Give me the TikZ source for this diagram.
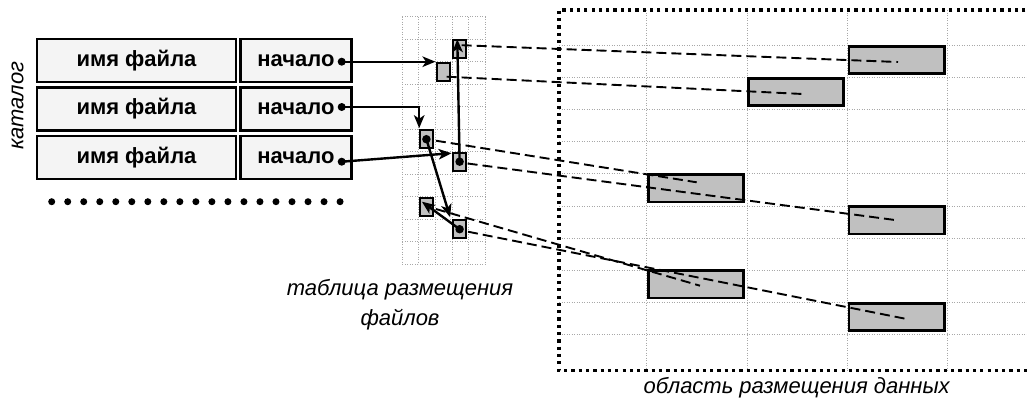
\documentclass[tikz,border=0pt]{standalone}
\usepackage{fontspec}
\setmainfont{Liberation Sans}
\usetikzlibrary{arrows.meta}
\definecolor{catfill}{HTML}{F4F4F4}
\definecolor{boxgray}{HTML}{C0C0C0}
\definecolor{gridgray}{HTML}{A8A8A8}
\begin{document}
\begin{tikzpicture}[x=1pt,y=-1pt,
  catcell/.style={draw=black, line width=2.6pt, fill=catfill, minimum height=43.2pt, inner sep=0pt, font=\fontsize{22}{26}\selectfont\bfseries},
  fatbox/.style={draw=black, line width=2pt, fill=boxgray, minimum width=13pt, minimum height=18pt, inner sep=0pt},
  datablk/.style={draw=black, line width=2.8pt, fill=boxgray, minimum width=95.2pt, minimum height=27.2pt, inner sep=0pt},
  gridln/.style={draw=gridgray, line width=0.9pt, dash pattern=on 0.9pt off 1.6pt},
  areaborder/.style={line width=3.2pt, dash pattern=on 3.2pt off 4.1pt},
  ptr/.style={line width=2.4pt, -{Stealth[length=13pt,width=10.5pt,inset=3.5pt]}},
  link/.style={line width=1.9pt, dash pattern=on 10pt off 5pt},
  dotc/.style={circle, fill=black, inner sep=0pt, minimum size=8pt},
  lbl/.style={font=\fontsize{22}{30}\selectfont\itshape, inner sep=0pt}
]
\useasboundingbox (0,0) rectangle (1027,400);
\clip (0,0) rectangle (1027,400);

% ---- data area grid ----
\foreach \x in {646.7,747.3,847.3,947.3} \draw[gridln] (\x,10) -- (\x,370.7);
\foreach \j in {0,...,9} \draw[gridln] (559,45+32.2*\j) -- (1030,45+32.2*\j);
\draw[areaborder] (1040,10) -| (559,370.7) -- (1040,370.7);

% ---- FAT grid ----
\foreach \i in {0,...,5} \draw[gridln] (402.3+16.6*\i,16.7) -- (402.3+16.6*\i,264.2);
\foreach \j in {0,...,11} \draw[gridln] (402.3,16.7+22.5*\j) -- (485.3,16.7+22.5*\j);

% ---- data blocks ----
\node[datablk] (b1) at (896.5,60) {};
\node[datablk] (b2) at (796.2,92) {};
\node[datablk] (b3) at (695.7,188.3) {};
\node[datablk] (b4) at (896.5,220.4) {};
\node[datablk] (b5) at (695.7,284.3) {};
\node[datablk] (b6) at (896.5,316.7) {};

% ---- FAT cells ----
\node[fatbox] (A) at (459.6,49.2) {};
\node[fatbox] (B) at (443.0,71.7) {};
\node[fatbox] (C) at (426.4,139.2) {};
\node[fatbox] (D) at (459.6,161.7) {};
\node[fatbox] (E) at (426.4,206.7) {};
\node[fatbox] (F) at (459.6,229.2) {};

% ---- links FAT -> data ----
\draw[link] ([shift={(2,-4)}]A.center) -- ([shift={(1.5,2)}]b1.center);
\draw[link] ([shift={(3.7,5)}]B.center) -- ([shift={(6.7,2)}]b2.center);
\draw[link] ([shift={(9.5,1.5)}]C.center) -- ([shift={(1,-6)}]b3.center);
\draw[link] ([shift={(8,1.8)}]D.center) -- ([shift={(1.5,0)}]b4.center);
\draw[link] ([shift={(9.5,2.3)}]E.center) -- ([shift={(4.3,1.4)}]b5.center);
\draw[link] ([shift={(8.4,2.5)}]F.center) -- ([shift={(10.2,2.3)}]b6.center);

% ---- catalog ----
\node[catcell, minimum width=199pt] (n1) at (136.5,60.5) {имя файла};
\node[catcell, minimum width=110.8pt] (s1) at (296,60.5) {начало};
\node[catcell, minimum width=199pt] (n2) at (136.5,108.8) {имя файла};
\node[catcell, minimum width=110.8pt] (s2) at (296,108.8) {начало};
\node[catcell, minimum width=199pt] (n3) at (136.5,157.5) {имя файла};
\node[catcell, minimum width=110.8pt] (s3) at (296,157.5) {начало};

\node[dotc] (p1) at (341.7,61.7) {};
\node[dotc] (p2) at (341.7,107) {};
\node[dotc] (p3) at (341.7,161.7) {};

\foreach \k in {0,...,18} \fill (51.7+16.02*\k,201.7) circle (3.5);

% ---- dots in FAT cells ----
\node[dotc, minimum size=8.5pt] (dC) at (C.center) {};
\node[dotc, minimum size=8.5pt] (dD) at (D.center) {};
\node[dotc, minimum size=8.5pt] (dF) at (F.center) {};

% ---- pointers ----
\draw[ptr] (p1.center) -- (p1.center -| B.west);
\draw[ptr] (p2.center) -| ([shift={(0.3,-1)}]C.north west);
\draw[ptr] (p3.center) -- ([shift={(-0.5,1.5)}]D.north west);
\draw[ptr] (dD.center) -- ([shift={(-2.3,0)}]A.north);
\draw[ptr] (dC.center) -- ([shift={(-2,-2)}]F.north west);
\draw[ptr] (dF.center) -- ([shift={(3,5)}]E.north west);

% ---- labels ----
\node[lbl, rotate=90] (catlbl) at (17.5,105.7) {каталог};
\node[lbl, align=center] (fatlbl) at (400,305) {таблица размещения\\файлов};
\node[lbl] (datalbl) at (796.7,388) {область размещения данных};
\end{tikzpicture}
\end{document}
